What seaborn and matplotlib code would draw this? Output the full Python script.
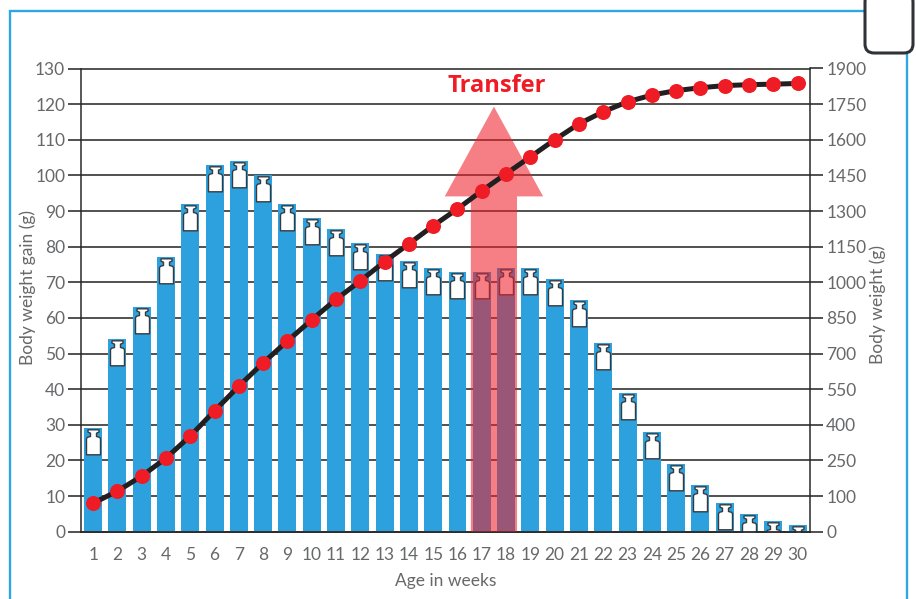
import numpy as np
import pandas as pd
import matplotlib
matplotlib.use("Agg")
import matplotlib.pyplot as plt
import seaborn as sns
from matplotlib.path import Path
from matplotlib.patches import FancyBboxPatch, Rectangle

weeks = list(range(1, 31))
gain_g = [29, 54, 63, 77, 92, 103, 104, 100, 92, 88, 85, 81, 78, 76, 74, 73, 73, 74,
          74, 71, 65, 53, 39, 28, 19, 13, 8, 5, 3, 2]
weight_g = [80, 121, 184, 260, 353, 459, 563, 661, 753, 842, 928, 1006, 1087, 1162, 1238,
            1309, 1385, 1457, 1528, 1600, 1667, 1718, 1760, 1788, 1807, 1819, 1828, 1832, 1834, 1837]
left_ticks = list(range(0, 131, 10))
right_ticks = [0, 100, 250, 400, 550, 700, 850, 1000, 1150, 1300, 1450, 1600, 1750, 1900]

BLUE = "#2ca1dd"
FRAME = "#2ea7e0"
RED = "#ef1c25"
GREY = "#67686a"
LINE = "#2b2a29"

sns.set_theme(style="white")
plt.rcParams["font.family"] = ["Lato", "DejaVu Sans"]

fig = plt.figure(figsize=(9.16, 5.99), dpi=100)
ax = fig.add_axes([81 / 916, 1 - 531.7 / 599, (809.7 - 81) / 916, (531.7 - 68.5) / 599])

df = pd.DataFrame({"week": weeks, "gain": gain_g, "weight": weight_g})
sns.barplot(data=df, x="week", y="gain", color=BLUE, saturation=1, width=0.74, linewidth=0, ax=ax, zorder=2)
ax.set_xlim(-0.5, 29.5)
ax.set_ylim(0, 130)
ax.set_yticks(left_ticks, labels=[str(v) for v in left_ticks])
for v in left_ticks:
    ax.axhline(v, color=LINE, lw=1.15, zorder=1, clip_on=False)
for s in ["top", "right"]:
    ax.spines[s].set_visible(False)
ax.spines["left"].set_color(LINE)
ax.spines["left"].set_linewidth(1.1)
ax.spines["bottom"].set_color(LINE)
ax.spines["bottom"].set_linewidth(1.3)
ax.spines["bottom"].set_zorder(5)
ax.set_xticks(np.arange(len(weeks)), labels=[str(w) for w in weeks])
ax.set_xticks(np.arange(-0.5, 30), minor=True)
ax.tick_params(axis="x", which="major", length=0, pad=11, labelsize=12.5, labelcolor=GREY)
ax.tick_params(axis="x", which="minor", length=8.6, width=1.1, color=LINE, bottom=True)
ax.tick_params(axis="y", length=9.4, width=1.15, color=LINE, pad=2, labelsize=12.5, labelcolor=GREY, left=True)
ax.set_xlabel("Age in weeks", fontsize=12.5, color=GREY, labelpad=7)
ax.set_ylabel("Body weight gain (g)", fontsize=12.5, color=GREY)
ax.yaxis.set_label_coords(-0.062, 0.527)

# weight icon, in pixels below the bar top; the spare first vertex fixes the marker scale
R = 30.0
ICON = [(0, -R), (-5.5, -1.3), (5.5, -1.3), (5.5, -3.6), (3, -4.7), (3, -8), (6, -8.8), (7, -10.2),
        (7, -26.3), (-7, -26.3), (-7, -10.2), (-6, -8.8), (-3, -8), (-3, -4.7), (-5.5, -3.6), (-5.5, -1.3)]
codes = [Path.MOVETO, Path.MOVETO] + [Path.LINETO] * (len(ICON) - 3) + [Path.CLOSEPOLY]
icon = Path(ICON, codes)
ax.plot(range(len(weeks)), gain_g, marker=icon, ms=2 * R * 0.72, mfc="white", mec="#3a3a3c", mew=1.0,
        ls="none", zorder=3)

ax.arrow(16.5, 0, 0, 119.3, width=1.9, head_width=4.05, head_length=25.2,
         length_includes_head=True, fc=RED, ec="none", alpha=0.56, zorder=6)
ax.text(16.6, 125.0, "Transfer", color=RED, fontsize=17, fontweight="bold",
        family=["Open Sans"], ha="center", va="center", zorder=7)

# right axis: 0-100 spans one grid step, then 150 per step
ax2 = ax.twinx()
seg_v = np.array(right_ticks, float)
seg_p = np.array(left_ticks, float)
ax2.set_yscale("function", functions=(lambda v: np.interp(v, seg_v, seg_p),
                                      lambda p: np.interp(p, seg_p, seg_v)))
ax2.set_ylim(0, 1900)
ax2.set_yticks(right_ticks, labels=[str(v) for v in right_ticks])
ax2.minorticks_off()
ax2.grid(False)
for s in ["top", "left", "bottom"]:
    ax2.spines[s].set_visible(False)
ax2.spines["right"].set_color(LINE)
ax2.spines["right"].set_linewidth(1.1)
ax2.tick_params(axis="y", length=9.4, width=1.15, color=LINE, pad=2.5, labelsize=12.5, labelcolor=GREY, right=True)
ax2.set_ylabel("Body weight (g)", fontsize=12.5, color=GREY)
ax2.yaxis.set_label_coords(1.082, 0.49)
ax2.plot(range(len(weeks)), weight_g, color="#231f20", lw=3.6, zorder=4)
ax2.plot(range(len(weeks)), weight_g, ls="none", marker="o", ms=10.8, mfc=RED, mec="none", zorder=5)
ax2.set_zorder(ax.get_zorder() + 1)
ax2.patch.set_visible(False)

# outer frame and tab
fig.add_artist(Rectangle((10 / 916, -0.05), 897 / 916, 1.05 - 11 / 599, transform=fig.transFigure,
                         fill=False, ec=FRAME, lw=1.7, zorder=0))
fig.add_artist(FancyBboxPatch((865 / 916, 1 - 53 / 599), 48 / 916, 60 / 599, transform=fig.transFigure,
                              boxstyle="round,pad=0,rounding_size=0.01", mutation_aspect=1.5,
                              fc="white", ec="#2f3338", lw=2.2, zorder=10))
fig.savefig("out.png", dpi=100)
